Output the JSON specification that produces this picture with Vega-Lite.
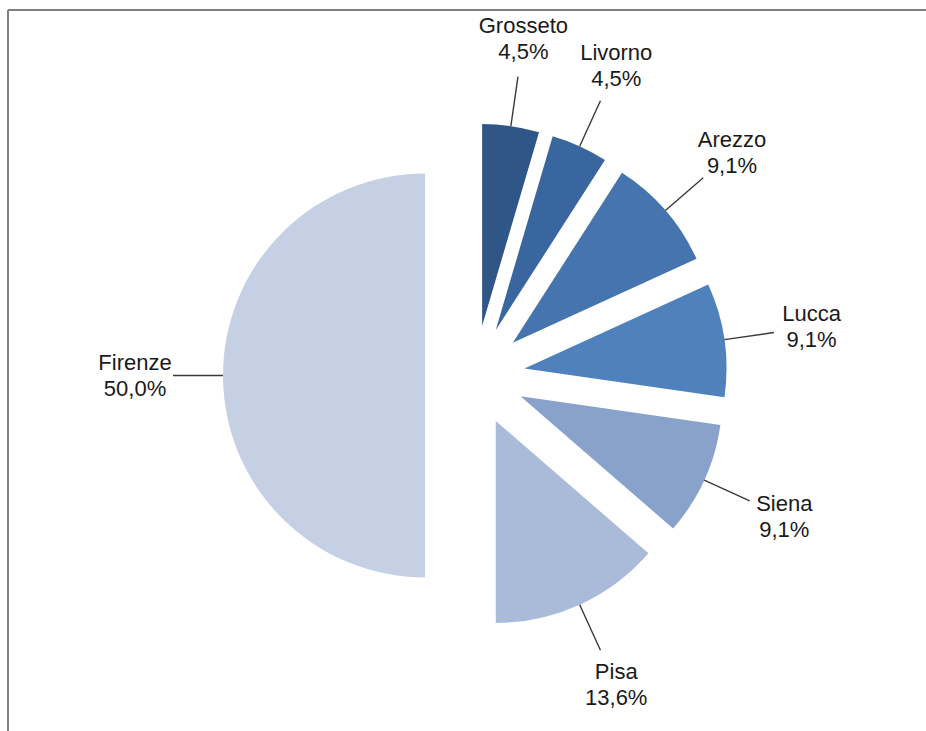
{
  "$schema": "https://vega.github.io/schema/vega-lite/v6.json",
  "width": 918,
  "height": 721,
  "autosize": "none",
  "padding": {"left": 8, "top": 10, "right": 0, "bottom": 0},
  "background": "white",
  "config": {"view": {"stroke": null}},
  "datasets": {
    "shares": [
      {"region": "Grosseto", "value": 1, "pct": "4,5%"},
      {"region": "Livorno", "value": 1, "pct": "4,5%"},
      {"region": "Arezzo", "value": 2, "pct": "9,1%"},
      {"region": "Lucca", "value": 2, "pct": "9,1%"},
      {"region": "Siena", "value": 2, "pct": "9,1%"},
      {"region": "Pisa", "value": 3, "pct": "13,6%"},
      {"region": "Firenze", "value": 11, "pct": "50,0%"}
    ],
    "frame": [{"name": "chart area"}]
  },
  "layer": [
    {
      "data": {"name": "frame"},
      "mark": {"type": "rule", "stroke": "#7f7f7f", "strokeWidth": 2},
      "encoding": {"x": {"value": 0}}
    },
    {
      "data": {"name": "frame"},
      "mark": {"type": "rule", "stroke": "#7f7f7f", "strokeWidth": 2},
      "encoding": {"y": {"value": 0}}
    },
    {
      "data": {"name": "shares"},
      "mark": {
        "type": "arc",
        "outerRadius": 202,
        "xOffset": {"expr": "8+50*sin(PI*(datum.value_start+datum.value_end)/22)"},
        "yOffset": {"expr": "5-50*cos(PI*(datum.value_start+datum.value_end)/22)"}
      },
      "encoding": {
        "theta": {"field": "value", "type": "quantitative", "stack": true},
        "order": {"field": "value", "type": "quantitative", "sort": "ascending"},
        "color": {
          "field": "region",
          "type": "nominal",
          "scale": {
            "domain": ["Grosseto", "Livorno", "Arezzo", "Lucca", "Siena", "Pisa", "Firenze"],
            "range": ["#2F5687", "#3A66A0", "#4674AE", "#4F81BD", "#88A2CB", "#AABBDA", "#C5D0E4"]
          },
          "legend": null
        }
      }
    },
    {
      "data": {"name": "shares"},
      "mark": {
        "type": "arc",
        "innerRadius": 202,
        "outerRadius": 252,
        "padAngle": 3,
        "fillOpacity": 0,
        "stroke": "#3a3a3a",
        "strokeWidth": 1.4,
        "xOffset": {"expr": "8+50*sin(PI*(datum.value_start+datum.value_end)/22)"},
        "yOffset": {"expr": "5-50*cos(PI*(datum.value_start+datum.value_end)/22)"}
      },
      "encoding": {
        "theta": {"field": "value", "type": "quantitative", "stack": true},
        "order": {"field": "value", "type": "quantitative", "sort": "ascending"}
      }
    },
    {
      "data": {"name": "shares"},
      "mark": {
        "type": "text",
        "radius": 290,
        "dy": -13,
        "font": "Liberation Sans",
        "fontSize": 22,
        "color": "#1a1a1a",
        "xOffset": {"expr": "8+50*sin(PI*(datum.value_start+datum.value_end)/22)"},
        "yOffset": {"expr": "5-50*cos(PI*(datum.value_start+datum.value_end)/22)"}
      },
      "encoding": {
        "theta": {"field": "value", "type": "quantitative", "stack": true},
        "order": {"field": "value", "type": "quantitative", "sort": "ascending"},
        "text": {"field": "region", "type": "nominal"}
      }
    },
    {
      "data": {"name": "shares"},
      "mark": {
        "type": "text",
        "radius": 290,
        "dy": 13,
        "font": "Liberation Sans",
        "fontSize": 22,
        "color": "#1a1a1a",
        "xOffset": {"expr": "8+50*sin(PI*(datum.value_start+datum.value_end)/22)"},
        "yOffset": {"expr": "5-50*cos(PI*(datum.value_start+datum.value_end)/22)"}
      },
      "encoding": {
        "theta": {"field": "value", "type": "quantitative", "stack": true},
        "order": {"field": "value", "type": "quantitative", "sort": "ascending"},
        "text": {"field": "pct", "type": "nominal"}
      }
    }
  ]
}
